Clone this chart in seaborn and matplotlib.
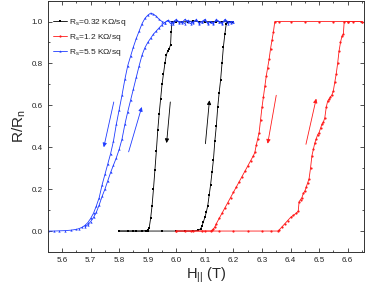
import matplotlib
matplotlib.use("Agg")
import matplotlib.pyplot as plt
import seaborn as sns

# Data =============================================================================
## Rs = 0.32 kOhm/sq (black)
black_dn_x = [5.80, 5.83, 5.86, 5.88, 5.895, 5.90, 5.905, 5.91, 5.915, 5.92,
              5.925, 5.93, 5.935, 5.94, 5.945, 5.95, 5.955, 5.96, 5.965, 5.97,
              5.975, 5.98, 5.982, 5.985, 6.00, 6.02, 6.04, 6.06, 6.08, 6.10,
              6.12, 6.14, 6.16, 6.18, 6.20]
black_dn_y = [0, 0, 0, 0, 0.002, 0.005, 0.015, 0.06, 0.12, 0.2,
              0.29, 0.38, 0.48, 0.56, 0.63, 0.7, 0.75, 0.8, 0.84, 0.86,
              0.87, 0.89, 0.95, 1.0, 1.0, 0.998, 1.0, 1.002, 1.0, 0.998,
              1.0, 1.0, 0.998, 1.0, 1.0]
black_up_x = [5.80, 5.85, 5.90, 5.95, 6.00, 6.03, 6.06, 6.075, 6.085, 6.09,
              6.095, 6.10, 6.105, 6.11, 6.115, 6.12, 6.125, 6.13, 6.135, 6.14,
              6.145, 6.15, 6.155, 6.16, 6.165, 6.17, 6.175, 6.18, 6.19, 6.20]
black_up_y = [0, 0, 0, 0, 0, 0, 0, 0.003, 0.01, 0.025,
              0.045, 0.065, 0.09, 0.12, 0.17, 0.22, 0.28, 0.34, 0.43, 0.5,
              0.59, 0.66, 0.72, 0.8, 0.88, 0.94, 0.99, 1.0, 1.0, 1.0]

## Rs = 1.2 kOhm/sq (red)
red_dn_x = [6.00, 6.03, 6.06, 6.09, 6.12, 6.125, 6.13, 6.135, 6.14, 6.15,
            6.16, 6.17, 6.18, 6.19, 6.20, 6.21, 6.22, 6.23, 6.24, 6.25,
            6.26, 6.27, 6.275, 6.28, 6.285, 6.29, 6.295, 6.30, 6.305, 6.31,
            6.315, 6.32, 6.325, 6.33, 6.335, 6.34, 6.345, 6.36, 6.40, 6.45,
            6.50, 6.55, 6.60, 6.65]
red_dn_y = [0, 0, 0, 0, 0, 0.003, 0.01, 0.02, 0.035, 0.06,
            0.085, 0.11, 0.135, 0.16, 0.185, 0.21, 0.235, 0.26, 0.285, 0.31,
            0.335, 0.36, 0.375, 0.41, 0.44, 0.47, 0.53, 0.59, 0.64, 0.69,
            0.74, 0.78, 0.82, 0.87, 0.91, 0.95, 1.0, 1.0, 1.0, 1.0,
            1.0, 1.0, 1.0, 1.0]
red_up_x = [6.00, 6.05, 6.10, 6.15, 6.20, 6.25, 6.30, 6.33, 6.355, 6.36,
            6.37, 6.38, 6.39, 6.40, 6.41, 6.42, 6.427, 6.43, 6.435, 6.44,
            6.445, 6.45, 6.455, 6.46, 6.465, 6.47, 6.475, 6.48, 6.485, 6.49,
            6.495, 6.50, 6.505, 6.51, 6.515, 6.52, 6.525, 6.53, 6.535, 6.54,
            6.545, 6.55, 6.555, 6.56, 6.565, 6.57, 6.575, 6.58, 6.585, 6.588,
            6.60, 6.62, 6.65]
red_up_y = [0, 0, 0, 0, 0, 0, 0, 0, 0, 0.005,
            0.02, 0.035, 0.05, 0.065, 0.075, 0.085, 0.095, 0.14, 0.15, 0.16,
            0.18, 0.19, 0.21, 0.23, 0.25, 0.3, 0.36, 0.39, 0.42, 0.44,
            0.46, 0.47, 0.49, 0.51, 0.52, 0.54, 0.59, 0.62, 0.63, 0.64,
            0.65, 0.67, 0.71, 0.75, 0.8, 0.86, 0.9, 0.93, 0.94, 1.0,
            1.0, 1.0, 1.0]

## Rs = 5.5 kOhm/sq (blue)
blue_dn_x = [5.55, 5.57, 5.59, 5.61, 5.63, 5.65, 5.66, 5.67, 5.68, 5.69,
             5.70, 5.71, 5.72, 5.73, 5.74, 5.75, 5.76, 5.77, 5.78, 5.79,
             5.80, 5.81, 5.82, 5.83, 5.84, 5.85, 5.86, 5.87, 5.88, 5.89,
             5.90, 5.91, 5.92, 5.93, 5.94, 5.95, 5.96, 5.97, 5.98, 5.99,
             6.00, 6.01, 6.02, 6.03, 6.04, 6.05, 6.06, 6.07, 6.08, 6.09,
             6.10, 6.11, 6.12, 6.13, 6.14, 6.15, 6.16, 6.17, 6.18, 6.19,
             6.20]
blue_dn_y = [0.0, 0.0, 0.001, 0.002, 0.004, 0.008, 0.012, 0.018, 0.027, 0.04,
             0.06, 0.085, 0.12, 0.16, 0.22, 0.27, 0.32, 0.37, 0.43, 0.51,
             0.58, 0.65, 0.725, 0.79, 0.835, 0.88, 0.92, 0.955, 0.99, 1.015,
             1.03, 1.04, 1.035, 1.025, 1.01, 1.0, 0.995, 1.005, 0.99, 1.0,
             1.01, 0.995, 1.0, 0.99, 1.005, 1.0, 0.995, 1.01, 0.99, 1.0,
             1.005, 0.995, 1.0, 0.99, 1.01, 1.0, 0.995, 1.005, 0.99, 1.0,
             1.0]
blue_up_x = [5.68, 5.69, 5.70, 5.71, 5.72, 5.73, 5.74, 5.75, 5.76, 5.77,
             5.78, 5.79, 5.80, 5.81, 5.82, 5.83, 5.84, 5.85, 5.86, 5.87,
             5.88, 5.89, 5.90, 5.91, 5.92, 5.93, 5.94, 5.95, 5.96, 5.97,
             5.98, 5.99, 6.00, 6.01, 6.02, 6.03, 6.04, 6.05, 6.06, 6.07,
             6.08, 6.09, 6.10, 6.11, 6.12, 6.13, 6.14, 6.15, 6.16, 6.17,
             6.18, 6.19, 6.20]
blue_up_y = [0.02, 0.03, 0.045, 0.065, 0.09, 0.125, 0.165, 0.2, 0.24, 0.28,
             0.315, 0.35, 0.39, 0.44, 0.51, 0.57, 0.625, 0.68, 0.735, 0.79,
             0.84, 0.875, 0.9, 0.92, 0.94, 0.955, 0.97, 0.985, 0.995, 1.005,
             1.0, 0.99, 1.005, 1.0, 0.995, 1.01, 1.0, 0.99, 1.0, 1.005,
             0.995, 1.0, 1.01, 0.99, 1.0, 0.995, 1.005, 1.0, 0.99, 1.01,
             1.0, 0.995, 1.0]

labels = ["R$_\\mathregular{s}$=0.32 K\u03a9/sq",
          "R$_\\mathregular{s}$=1.2 K\u03a9/sq",
          "R$_\\mathregular{s}$=5.5 K\u03a9/sq"]

# sweep-direction arrows: (tail_x, tail_y, head_x, head_y)
arrows_black = [(5.979, 0.616, 5.966, 0.42), (6.102, 0.417, 6.116, 0.624)]
arrows_red = [(6.35, 0.648, 6.32, 0.417), (6.454, 0.414, 6.49, 0.632)]
arrows_blue = [(5.781, 0.616, 5.746, 0.40), (5.833, 0.378, 5.879, 0.592)]


# Plot ==============================================================================
sns.set_style("ticks")
plt.rcParams['font.family'] = ['Liberation Sans', 'DejaVu Sans']
plt.rcParams['mathtext.default'] = 'regular'

fig = plt.figure(figsize=(3.65, 2.92), dpi=100)
ax = fig.add_axes([0.131, 0.137, 0.866, 0.861])

series = [
    ("black", "s", black_dn_x, black_dn_y, black_up_x, black_up_y, arrows_black),
    ("#ff1a1a", "o", red_dn_x, red_dn_y, red_up_x, red_up_y, arrows_red),
    ("#1f3cff", "^", blue_dn_x, blue_dn_y, blue_up_x, blue_up_y, arrows_blue),
]

for (col, mk, xd, yd, xu, yu, arr), lab in zip(series, labels):
    #down sweep branch carries the legend label
    sns.lineplot(x=xd, y=yd, sort=False, estimator=None, ax=ax, color=col,
                 marker=mk, markersize=1.6, markeredgewidth=0, linewidth=0.6,
                 label=lab)
    #up sweep branch
    sns.lineplot(x=xu, y=yu, sort=False, estimator=None, ax=ax, color=col,
                 marker=mk, markersize=1.6, markeredgewidth=0, linewidth=0.6)
    #arrows showing sweep direction
    for tx, ty, hx, hy in arr:
        ax.annotate("", xy=(hx, hy), xytext=(tx, ty),
                    arrowprops=dict(arrowstyle="-|>", color=col, lw=0.6,
                                    mutation_scale=6, shrinkA=0, shrinkB=0))

#axes limits and ticks
ax.set_xlim(5.555, 6.657)
ax.set_ylim(-0.1, 1.1)
ax.set_xticks([5.6, 5.7, 5.8, 5.9, 6.0, 6.1, 6.2, 6.3, 6.4, 6.5, 6.6])
ax.set_xticks([5.55 + 0.1 * i for i in range(12)], minor=True)
ax.set_yticks([0.0, 0.2, 0.4, 0.6, 0.8, 1.0])
ax.set_yticks([-0.1, 0.1, 0.3, 0.5, 0.7, 0.9, 1.1], minor=True)
ax.xaxis.set_major_formatter(matplotlib.ticker.FormatStrFormatter('%.1f'))
ax.yaxis.set_major_formatter(matplotlib.ticker.FormatStrFormatter('%.1f'))
ax.tick_params(which='both', direction='in', top=True, right=True,
               colors='#333333', labelcolor='#222222', width=0.6)
ax.tick_params(which='major', length=3.0, labelsize=5.8, pad=3.5)
ax.tick_params(which='minor', length=1.6)
for sp in ax.spines.values():
    sp.set_linewidth(0.7)
    sp.set_color('#333333')

#labels
ax.set_xlabel("H$_\\mathregular{||}$ (T)", fontsize=10.5, labelpad=1)
ax.set_ylabel("R/R$_\\mathregular{n}$", fontsize=11, labelpad=3)

#legend
leg = ax.legend(loc='upper left', bbox_to_anchor=(0.0, 0.955), frameon=False,
                fontsize=6.0, handlelength=1.7, handletextpad=0.25,
                labelspacing=0.5, borderaxespad=0.2)
for t in leg.get_texts():
    t.set_color('#222222')

fig.savefig("out.png", dpi=100)
plt.close()
